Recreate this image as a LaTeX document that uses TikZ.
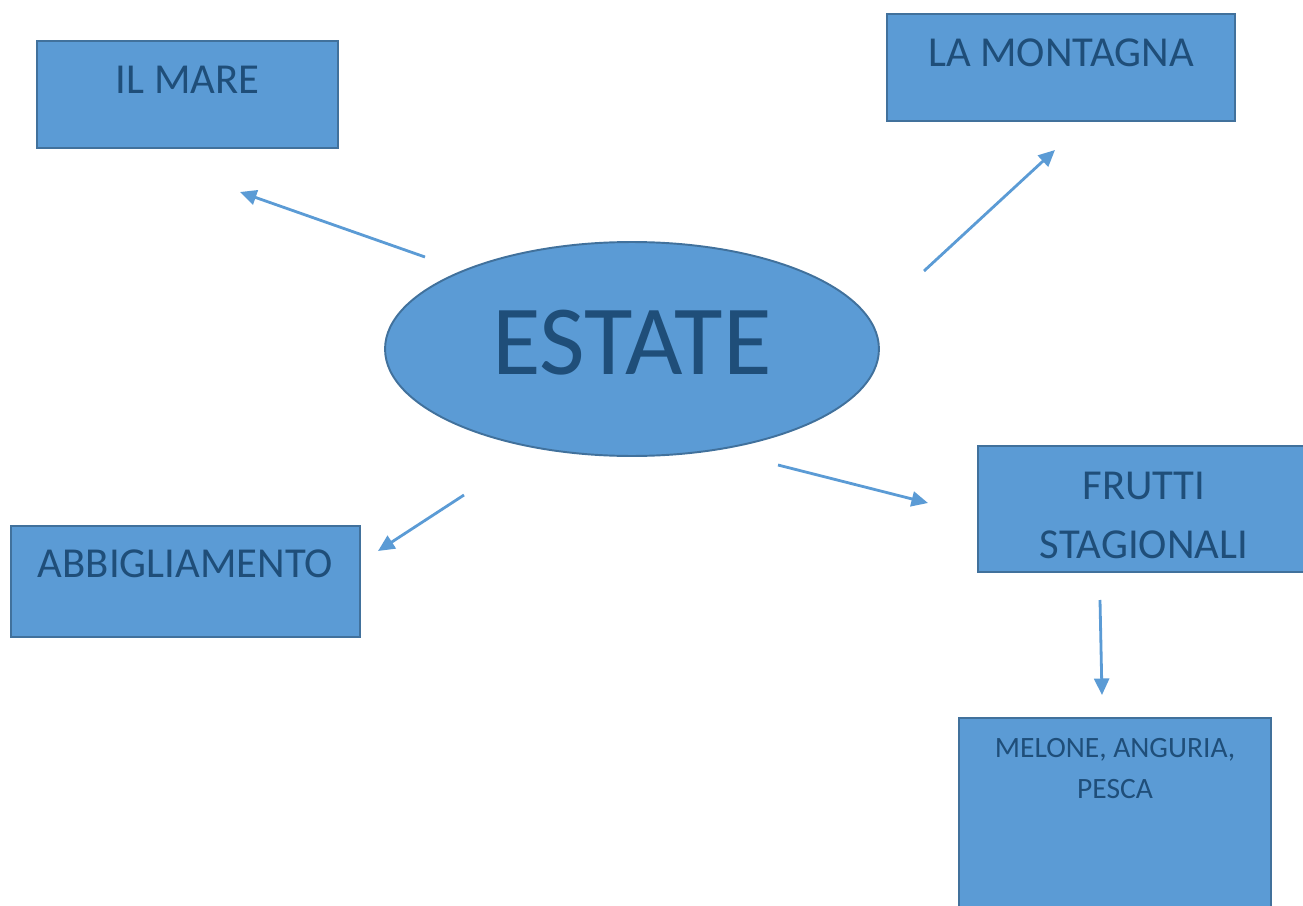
\documentclass[tikz,border=0pt]{standalone}
\usepackage{fontspec}
\setmainfont{Carlito}
\usepackage{xcolor}
\usepackage{tikz}
\usetikzlibrary{arrows.meta,positioning,shapes.geometric}
\definecolor{estateblue}{RGB}{91,155,213}
\definecolor{borderblue}{RGB}{65,113,156}
\definecolor{textblue}{RGB}{31,78,121}

\begin{document}
\begin{tikzpicture}[x=0.02cm,y=-0.02cm,
    topic/.style={draw=borderblue,fill=estateblue,line width=1.1pt,text=textblue,
        inner sep=0pt,align=center,anchor=north,font=\fontsize{24.3}{34}\selectfont},
    conn/.style={estateblue,line width=1.6pt,-{Triangle[length=3.3mm,width=3mm]}}]
    \useasboundingbox (0,0) rectangle (1303,906);

    % Central topic
    \node[ellipse,draw=borderblue,fill=estateblue,line width=1.1pt,text=textblue,
        minimum width=9.88cm,minimum height=4.28cm,inner sep=0pt,text depth=0.26cm,
        font=\fontsize{56.5}{66}\selectfont] (estate) at (632,349) {ESTATE};

    % Boxes
    \node[topic,minimum width=6.02cm,text height=1.06cm,text depth=1.08cm] (mare) at (187.5,40) {IL MARE};
    \node[topic,minimum width=6.96cm,text height=1.06cm,text depth=1.08cm] (montagna) at (1061,13) {LA MONTAGNA};
    \node[topic,minimum width=6.98cm,text height=1.04cm,text depth=1.18cm] (abbigliamento) at (185.5,525) {ABBIGLIAMENTO};
    \node[topic,minimum width=6.64cm,text height=2.26cm,text depth=0.26cm] (frutti) at (1144,445) {FRUTTI\\STAGIONALI};
    \node[topic,minimum width=6.24cm,text height=1.62cm,text depth=3.18cm,
        font=\fontsize{16.8}{23.5}\selectfont] (melone) at (1115,717) {MELONE, ANGURIA,\\PESCA};

    % Arrows
    \coordinate (mare-from) at (425,257);
    \coordinate (mare-to) at (240,192);
    \coordinate (montagna-from) at (924,271);
    \coordinate (montagna-to) at (1055,150);
    \coordinate (abbigliamento-from) at (464,495);
    \coordinate (abbigliamento-to) at (378,551);
    \coordinate (frutti-from) at (778,465);
    \coordinate (frutti-to) at (928,503);
    \coordinate (melone-from) at (1100,600);
    \coordinate (melone-to) at (1102,695);
    \draw[conn] (mare-from) -- (mare-to);
    \draw[conn] (montagna-from) -- (montagna-to);
    \draw[conn] (abbigliamento-from) -- (abbigliamento-to);
    \draw[conn] (frutti-from) -- (frutti-to);
    \draw[conn] (melone-from) -- (melone-to);
\end{tikzpicture}
\end{document}
